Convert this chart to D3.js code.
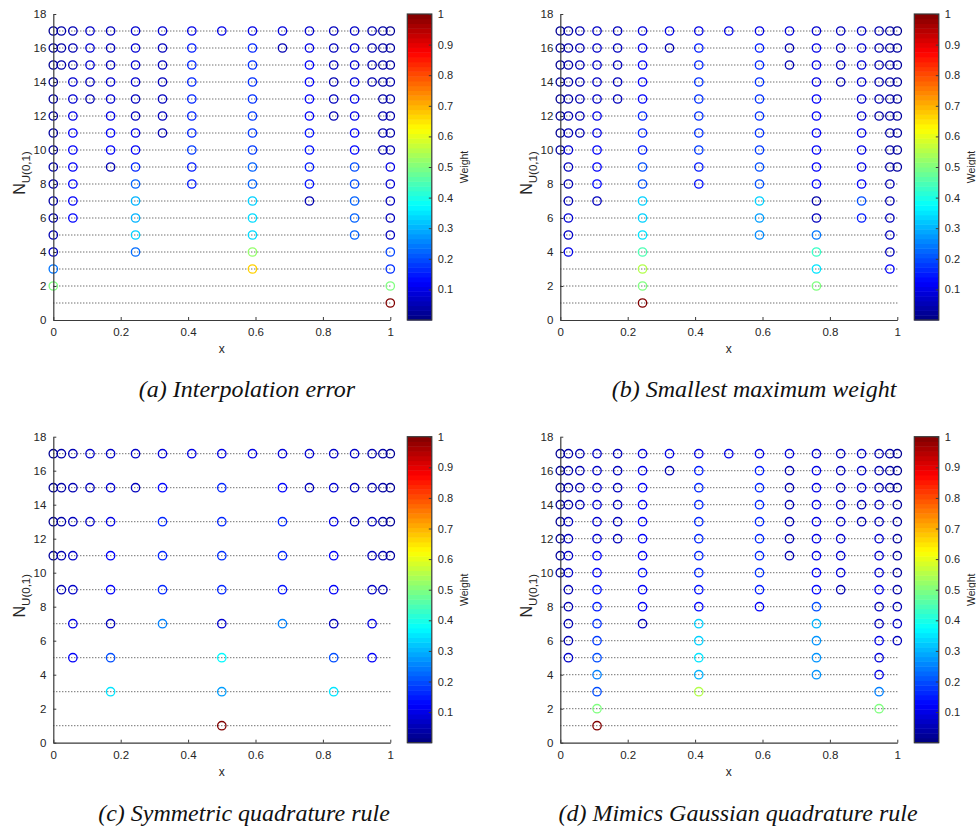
<!DOCTYPE html>
<html><head><meta charset="utf-8">
<script src="https://cdn.jsdelivr.net/npm/d3@7"></script>
<style>body{margin:0;background:#fff}svg{display:block}</style>
</head><body><svg id="chart" width="976" height="829"></svg>
<script>
// candidate node locations on [0,1]
const nodesX = [0, 0.024, 0.058, 0.109, 0.170, 0.244, 0.324, 0.411, 0.5, 0.591, 0.680, 0.760, 0.832, 0.894, 0.946, 0.978, 1];
const yTicks = [0, 2, 4, 6, 8, 10, 12, 14, 16, 18];
const xTicks = [0, 0.2, 0.4, 0.6, 0.8, 1];
const cbTicks = [0.1, 0.2, 0.3, 0.4, 0.5, 0.6, 0.7, 0.8, 0.9, 1];
const captions = ["(a) Interpolation error", "(b) Smallest maximum weight", "(c) Symmetric quadrature rule", "(d) Mimics Gaussian quadrature rule"];

// Panel (a): node indices per level N and weights
const levelsA = [1,2,3,4,5,6,7,8,9,10,11,12,13,14,15,16,17];
const nodesA = [
  [16],
  [0,16],
  [0,9,16],
  [0,5,9,16],
  [0,5,9,13,16],
  [0,2,5,9,13,16],
  [0,2,5,9,11,13,16],
  [0,2,5,7,9,11,13,16],
  [0,2,4,5,7,9,11,13,16],
  [0,2,4,5,7,9,11,13,15,16],
  [0,2,4,5,6,7,9,11,13,15,16],
  [0,2,4,5,6,7,9,11,12,13,15,16],
  [0,2,3,4,5,6,7,9,11,12,13,15,16],
  [0,2,3,4,5,6,7,9,11,12,13,14,15,16],
  [0,1,2,3,4,5,6,7,9,11,12,13,14,15,16],
  [0,1,2,3,4,5,6,7,9,10,11,12,13,14,15,16],
  [0,1,2,3,4,5,6,7,8,9,10,11,12,13,14,15,16]
];
const weightsA = [
  [1.0],
  [0.5,0.5],
  [0.24,0.67,0.17],
  [0.06,0.23,0.52,0.19],
  [0.05,0.33,0.34,0.22,0.06],
  [0.04,0.13,0.30,0.34,0.22,0.06],
  [0.04,0.12,0.30,0.33,0.05,0.22,0.06],
  [0.04,0.13,0.22,0.15,0.22,0.14,0.20,0.08],
  [0.04,0.12,0.05,0.16,0.15,0.22,0.15,0.20,0.10],
  [0.03,0.12,0.12,0.12,0.18,0.18,0.14,0.13,0.05,0.05],
  [0.03,0.12,0.12,0.10,0.05,0.16,0.18,0.14,0.12,0.05,0.04],
  [0.03,0.10,0.10,0.06,0.06,0.16,0.18,0.12,0.05,0.10,0.05,0.04],
  [0.03,0.08,0.05,0.08,0.06,0.06,0.16,0.17,0.12,0.06,0.10,0.04,0.04],
  [0.02,0.08,0.06,0.08,0.08,0.06,0.16,0.17,0.12,0.05,0.09,0.05,0.04,0.04],
  [0.02,0.04,0.05,0.08,0.06,0.08,0.06,0.16,0.17,0.12,0.06,0.08,0.05,0.04,0.03],
  [0.02,0.04,0.05,0.08,0.06,0.08,0.06,0.15,0.16,0.05,0.10,0.06,0.08,0.05,0.04,0.03],
  [0.02,0.04,0.05,0.07,0.06,0.08,0.08,0.10,0.10,0.10,0.09,0.08,0.06,0.07,0.05,0.04,0.02]
];

// Panel (b)
const levelsB = [1,2,3,4,5,6,7,8,9,10,11,12,13,14,15,16,17];
const nodesB = [
  [5],
  [5,11],
  [5,11,15],
  [1,5,11,15],
  [1,5,9,11,15],
  [1,5,9,11,13,15],
  [1,3,5,9,11,13,15],
  [1,3,5,7,9,11,13,15],
  [1,3,5,7,9,11,13,15,16],
  [0,1,3,5,7,9,11,13,15,16],
  [0,1,2,3,5,7,9,11,13,15,16],
  [0,1,2,3,5,7,9,11,13,14,15,16],
  [0,1,2,3,4,5,7,9,11,13,14,15,16],
  [0,1,2,3,4,5,7,9,11,12,13,14,15,16],
  [0,1,2,3,4,5,7,9,10,11,12,13,14,15,16],
  [0,1,2,3,4,5,6,7,9,10,11,12,13,14,15,16],
  [0,1,2,3,4,5,6,7,8,9,10,11,12,13,14,15,16]
];
const weightsB = [
  [1.0],
  [0.5,0.5],
  [0.55,0.35,0.12],
  [0.10,0.45,0.43,0.06],
  [0.07,0.35,0.26,0.24,0.06],
  [0.08,0.33,0.28,0.06,0.15,0.06],
  [0.05,0.06,0.33,0.33,0.04,0.20,0.05],
  [0.05,0.13,0.20,0.14,0.20,0.13,0.12,0.05],
  [0.06,0.12,0.20,0.15,0.20,0.12,0.10,0.04,0.03],
  [0.03,0.08,0.12,0.15,0.18,0.18,0.12,0.10,0.04,0.03],
  [0.02,0.05,0.05,0.10,0.16,0.17,0.17,0.12,0.10,0.04,0.03],
  [0.02,0.05,0.05,0.10,0.16,0.17,0.17,0.12,0.08,0.04,0.04,0.03],
  [0.02,0.04,0.05,0.07,0.06,0.12,0.17,0.17,0.12,0.08,0.05,0.04,0.03],
  [0.02,0.04,0.05,0.07,0.06,0.12,0.17,0.17,0.10,0.05,0.08,0.05,0.04,0.03],
  [0.02,0.04,0.05,0.07,0.06,0.12,0.16,0.16,0.05,0.10,0.06,0.08,0.05,0.04,0.03],
  [0.02,0.04,0.05,0.07,0.06,0.10,0.05,0.15,0.15,0.05,0.10,0.06,0.08,0.05,0.04,0.03],
  [0.02,0.04,0.05,0.07,0.06,0.09,0.10,0.10,0.10,0.10,0.09,0.08,0.06,0.07,0.05,0.04,0.02]
];

// Panel (c): only odd levels
const levelsC = [1,3,5,7,9,11,13,15,17];
const nodesC = [
  [8],
  [4,8,12],
  [2,4,8,12,14],
  [2,4,6,8,10,12,14],
  [1,2,4,6,8,10,12,14,15],
  [0,1,2,4,6,8,10,12,14,15,16],
  [0,1,2,3,4,6,8,10,12,13,14,15,16],
  [0,1,2,3,4,5,6,8,10,11,12,13,14,15,16],
  [0,1,2,3,4,5,6,7,8,9,10,11,12,13,14,15,16]
];
const weightsC = [
  [1.0],
  [0.35,0.28,0.35],
  [0.12,0.20,0.37,0.20,0.12],
  [0.10,0.06,0.25,0.08,0.25,0.06,0.10],
  [0.05,0.07,0.12,0.16,0.16,0.14,0.12,0.07,0.05],
  [0.03,0.05,0.07,0.12,0.16,0.17,0.16,0.12,0.06,0.05,0.03],
  [0.02,0.04,0.06,0.07,0.10,0.16,0.16,0.16,0.10,0.06,0.06,0.04,0.02],
  [0.02,0.04,0.05,0.06,0.08,0.06,0.13,0.16,0.13,0.06,0.08,0.06,0.05,0.04,0.02],
  [0.02,0.04,0.05,0.07,0.07,0.07,0.09,0.10,0.10,0.10,0.09,0.08,0.07,0.07,0.05,0.04,0.02]
];

// Panel (d)
const levelsD = [1,2,3,4,5,6,7,8,9,10,11,12,13,14,15,16,17];
const nodesD = [
  [3],
  [3,14],
  [3,7,14],
  [3,7,11,14],
  [1,3,7,11,14],
  [1,3,7,11,14,16],
  [1,3,5,7,11,14,16],
  [1,3,5,7,9,11,14,16],
  [1,3,5,7,9,11,12,14,16],
  [0,1,3,5,7,9,11,12,14,16],
  [0,1,3,5,7,9,10,11,12,14,16],
  [0,1,3,4,5,7,9,10,11,12,14,16],
  [0,1,3,4,5,7,9,10,11,12,13,14,16],
  [0,1,2,3,4,5,7,9,10,11,12,13,14,16],
  [0,1,2,3,4,5,7,9,10,11,12,13,14,15,16],
  [0,1,2,3,4,5,6,7,9,10,11,12,13,14,15,16],
  [0,1,2,3,4,5,6,7,8,9,10,11,12,13,14,15,16]
];
const weightsD = [
  [1.0],
  [0.5,0.5],
  [0.20,0.55,0.25],
  [0.25,0.30,0.27,0.10],
  [0.07,0.20,0.35,0.27,0.09],
  [0.05,0.18,0.33,0.27,0.10,0.06],
  [0.05,0.17,0.06,0.33,0.30,0.06,0.07],
  [0.05,0.15,0.12,0.13,0.12,0.20,0.06,0.05],
  [0.05,0.14,0.12,0.14,0.15,0.13,0.05,0.10,0.04],
  [0.03,0.07,0.12,0.14,0.16,0.17,0.12,0.09,0.08,0.03],
  [0.03,0.07,0.12,0.12,0.16,0.16,0.05,0.10,0.08,0.08,0.03],
  [0.02,0.06,0.08,0.06,0.12,0.16,0.16,0.05,0.10,0.08,0.08,0.03],
  [0.02,0.06,0.08,0.06,0.12,0.16,0.16,0.05,0.10,0.07,0.05,0.06,0.03],
  [0.02,0.04,0.05,0.08,0.06,0.12,0.16,0.16,0.05,0.10,0.07,0.05,0.06,0.03],
  [0.02,0.04,0.05,0.07,0.06,0.12,0.16,0.16,0.05,0.10,0.06,0.07,0.05,0.04,0.02],
  [0.02,0.04,0.05,0.07,0.06,0.10,0.05,0.15,0.15,0.05,0.10,0.06,0.07,0.05,0.04,0.02],
  [0.02,0.04,0.05,0.07,0.06,0.09,0.10,0.10,0.10,0.10,0.09,0.08,0.06,0.07,0.05,0.04,0.02]
];

// ---------- drawing ----------
function jet(v) {
  const c = t => Math.max(0, Math.min(1, t));
  const r = c(1.5 - Math.abs(4 * v - 3));
  const g = c(1.5 - Math.abs(4 * v - 2));
  const b = c(1.5 - Math.abs(4 * v - 1));
  return d3.rgb(r * 255, g * 255, b * 255).toString();
}
const svg = d3.select("#chart");
const TXT = "#262626", AX = "#3a3a3a";
const FONT = "'Liberation Sans', Arial, sans-serif";

const panels = [
  {levels: levelsA, nodes: nodesA, weights: weightsA, left: 53.3, top: 14, caption: captions[0], capX: 247, capY: 397},
  {levels: levelsB, nodes: nodesB, weights: weightsB, left: 560.3, top: 14, caption: captions[1], capX: 754, capY: 397},
  {levels: levelsC, nodes: nodesC, weights: weightsC, left: 53.3, top: 436.7, caption: captions[2], capX: 244, capY: 821},
  {levels: levelsD, nodes: nodesD, weights: weightsD, left: 560.3, top: 436.7, caption: captions[3], capX: 738, capY: 821}
];
const PW = 337, PH = 306;

panels.forEach(p => {
  const g = svg.append("g");
  const x = d3.scaleLinear().domain([0, 1]).range([p.left, p.left + PW]);
  const y = d3.scaleLinear().domain([0, 18]).range([p.top + PH, p.top]);

  g.selectAll("line.lvl").data(p.levels).join("line")
    .attr("x1", x(0)).attr("x2", x(1))
    .attr("y1", d => y(d)).attr("y2", d => y(d))
    .attr("stroke", "#333").attr("stroke-width", 1)
    .attr("stroke-dasharray", "1,2");

  const pts = [];
  p.levels.forEach((lv, i) => {
    p.nodes[i].forEach((ni, j) => pts.push({x: nodesX[ni], n: lv, w: p.weights[i][j]}));
  });
  g.selectAll("circle.pt").data(pts).join("circle")
    .attr("cx", d => x(d.x)).attr("cy", d => y(d.n)).attr("r", 4.2)
    .attr("fill", "none").attr("stroke", d => jet(d.w)).attr("stroke-width", 1.3);

  const ax = g.append("g").attr("transform", `translate(0,${y(0)})`)
    .call(d3.axisBottom(x).tickValues(xTicks).tickFormat(d3.format("~g")).tickSizeInner(-3).tickSizeOuter(0).tickPadding(8));
  const ay = g.append("g").attr("transform", `translate(${x(0)},0)`)
    .call(d3.axisLeft(y).tickValues(yTicks).tickSizeInner(-3).tickSizeOuter(0).tickPadding(7));
  [ax, ay].forEach(a => {
    a.select(".domain").attr("stroke", AX).attr("stroke-width", 1.2);
    a.selectAll(".tick line").attr("stroke", AX);
    a.selectAll(".tick text").attr("fill", TXT).attr("font-size", 11.5).attr("font-family", FONT);
  });

  g.append("text").attr("x", x(0.5)).attr("y", y(0) + 33).attr("text-anchor", "middle")
    .attr("fill", TXT).attr("font-size", 12).attr("font-family", FONT).text("x");

  const yl = g.append("text").attr("transform", `translate(${p.left - 28},${y(9) + 6}) rotate(-90)`)
    .attr("text-anchor", "middle").attr("fill", TXT).attr("font-size", 16).attr("font-family", FONT);
  yl.append("tspan").text("N");
  yl.append("tspan").attr("font-size", 11.5).attr("dy", 5).text("U(0,1)");

  const cbL = p.left + PW + 17, cbW = 24.5;
  const c = d3.scaleLinear().domain([0, 1]).range([p.top + PH, p.top]);
  const bands = d3.range(64);
  g.selectAll("rect.cb").data(bands).join("rect")
    .attr("x", cbL).attr("width", cbW)
    .attr("y", d => c((d + 1) / 64)).attr("height", c(0) - c(1 / 64) + 0.5)
    .attr("fill", d => jet((d + 0.5) / 64));
  g.append("rect").attr("x", cbL).attr("y", p.top).attr("width", cbW).attr("height", PH)
    .attr("fill", "none").attr("stroke", AX).attr("stroke-width", 1.2);
  const ac = g.append("g").attr("transform", `translate(${cbL + cbW},0)`)
    .call(d3.axisRight(c).tickValues(cbTicks).tickFormat(d3.format("~g")).tickSizeInner(-3).tickSizeOuter(0).tickPadding(6));
  ac.select(".domain").remove();
  ac.selectAll(".tick line").attr("stroke", AX);
  ac.selectAll(".tick text").attr("fill", TXT).attr("font-size", 11).attr("font-family", FONT);
  g.append("text").attr("transform", `translate(${cbL + cbW + 36},${c(0.5)}) rotate(-90)`)
    .attr("text-anchor", "middle").attr("fill", TXT).attr("font-size", 10.5).attr("font-family", FONT).text("Weight");

  svg.append("text").attr("x", p.capX).attr("y", p.capY).attr("text-anchor", "middle")
    .attr("font-family", "'Liberation Serif', 'DejaVu Serif', serif").attr("font-style", "italic")
    .attr("font-size", 24).attr("fill", "#111").text(p.caption);
});
</script></body></html>
